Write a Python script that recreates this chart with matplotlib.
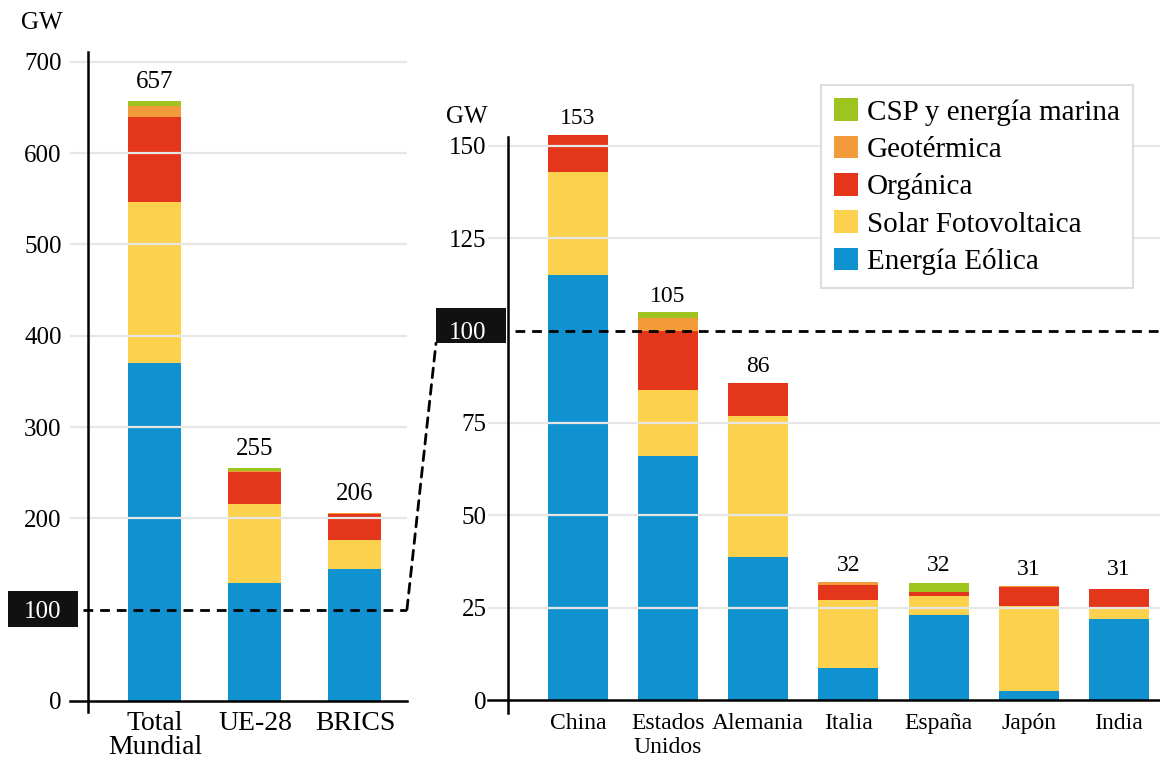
import matplotlib
matplotlib.use("Agg")
import numpy as np
import matplotlib.pyplot as plt
from matplotlib import transforms
from matplotlib.patches import Rectangle, ConnectionPatch

plt.rcParams['font.family'] = ['Liberation Serif', 'DejaVu Serif']

# Data (GW)
sources = ["Energía Eólica", "Solar Fotovoltaica", "Orgánica", "Geotérmica", "CSP y energía marina"]
colors = ["#1192D0", "#FCD14E", "#E3361A", "#F39A3B", "#9DC41F"]

left_cats = ["Total\nMundial", "UE-28", "BRICS"]
left_wind = [370, 129, 144]
left_solar = [177, 87, 32]
left_organic = [93, 35, 29]
left_geo = [12, 1, 1]
left_csp = [5, 3, 0]
left_totals = [657, 255, 206]

right_cats = ["China", "Estados\nUnidos", "Alemania", "Italia", "España", "Japón", "India"]
right_wind = [115, 66, 38.8, 8.7, 23, 2.6, 22]
right_solar = [28, 18, 38.1, 18.5, 5.3, 23, 3]
right_organic = [10, 16, 8.8, 4, 1, 5, 5]
right_geo = [0, 3.3, 0, 0.8, 0, 0.4, 0]
right_csp = [0, 1.8, 0, 0, 2.3, 0, 0]
right_totals = [153, 105, 86, 32, 32, 31, 31]

left_ticks = [0, 100, 200, 300, 400, 500, 600, 700]
right_ticks = [0, 25, 50, 75, 100, 125, 150]

fig = plt.figure(figsize=(11.6, 7.63), dpi=100)
ax1 = fig.add_axes([0.0603, 0.0813, 0.2905, 0.8855])
ax2 = fig.add_axes([0.4207, 0.0822, 0.5793, 0.7753])

grid_col = "#e6e6e6"
dash = (0, (3.5, 2.5))


def draw_panel(ax, cats, series, totals, width, ticks, ylim, xlim, spine_x, spine_top,
               spine_bot, cat_size, val_size, val_off, tick_pad, box_x, box_y):
    x = np.arange(len(cats))
    bottom = np.zeros(len(cats))
    for vals, col, name in zip(series, colors, sources):
        vals = np.array(vals, dtype=float)
        ax.bar(x, vals, width, bottom=bottom, color=col, label=name, zorder=2,
               clip_on=False)
        bottom += vals
    for xi, t in zip(x, totals):
        ax.annotate(str(t), (xi, t), xytext=(0, val_off), textcoords="offset points",
                    ha="center", va="bottom", fontsize=val_size)
    ax.set_xlim(*xlim)
    ax.set_ylim(*ylim)
    ax.set_xticks(x)
    ax.set_xticklabels(cats, fontsize=cat_size)
    ax.set_yticks(ticks)
    ax.set_yticklabels([str(t) for t in ticks], fontsize=18)
    ax.tick_params(axis="both", length=0)
    ax.tick_params(axis="y", pad=tick_pad)
    for s in ["top", "right", "left"]:
        ax.spines[s].set_visible(False)
    ax.spines["bottom"].set_linewidth(1.8)
    # gridlines on top of bars
    for t in ticks[1:]:
        if t != 100:
            ax.axhline(t, color=grid_col, lw=1.6, zorder=3)
    # vertical axis line
    ax.plot([spine_x, spine_x], [spine_bot, spine_top], color="black", lw=1.8,
            clip_on=False, zorder=5)
    # dashed 100 line
    ax.axhline(100, xmin=0.04, xmax=1.0, color="black", lw=2,
               linestyle=dash, zorder=6)
    # black box behind label 100
    trans = transforms.blended_transform_factory(ax.transAxes, ax.transData)
    ax.add_patch(Rectangle((box_x[0], box_y[0]), box_x[1] - box_x[0], box_y[1] - box_y[0],
                           transform=trans, facecolor="#111111", edgecolor="none",
                           clip_on=False, zorder=1))
    for lab in ax.get_yticklabels():
        if lab.get_text() == "100":
            lab.set_color("white")
    return trans


trans1 = draw_panel(ax1, left_cats, [left_wind, left_solar, left_organic, left_geo, left_csp],
                    left_totals, 0.53, left_ticks, (0, 740), (-0.85, 2.52), -0.67, 711, -12,
                    20, 18, 6, 6, (-0.184, 0.024), (81, 120))
trans2 = draw_panel(ax2, right_cats, [right_wind, right_solar, right_organic, right_geo, right_csp],
                    right_totals, 0.665, right_ticks, (0, 160), (-0.995, 6.455), -0.773, 152.4,
                    -3.4, 17, 17, 4, 1, (-0.0774, 0.0268), (96.6, 106.2))

for lab in ax1.get_xticklabels():
    lab.set_linespacing(0.95)
ax1.tick_params(axis="x", pad=7)
ax2.tick_params(axis="x", pad=9)

# connector from left 100 line to right 100 box
con = ConnectionPatch(xyA=(1.0, 100), coordsA=trans1, xyB=(-0.0774, 96.6), coordsB=trans2,
                      color="black", lw=2, linestyle=dash, zorder=6)
fig.add_artist(con)

# unit labels
fig.text(63 / 1160, 1 - 23 / 763, "GW", ha="right", va="center", fontsize=18)
fig.text(488 / 1160, 1 - 117 / 763, "GW", ha="right", va="center", fontsize=18)

# legend
h, l = ax2.get_legend_handles_labels()
leg = ax2.legend(h[::-1], l[::-1], loc="upper right", bbox_to_anchor=(1133 / 1160, 1 - 85 / 763),
                 bbox_transform=fig.transFigure, fontsize=21, frameon=True, fancybox=False,
                 framealpha=1, edgecolor="#dddddd", handlelength=0.82, handleheight=0.82,
                 handletextpad=0.3, labelspacing=0.34, borderpad=0.45, borderaxespad=0)
leg.set_zorder(10)
leg.get_frame().set_linewidth(1.5)

fig.savefig("out.png", dpi=100)
